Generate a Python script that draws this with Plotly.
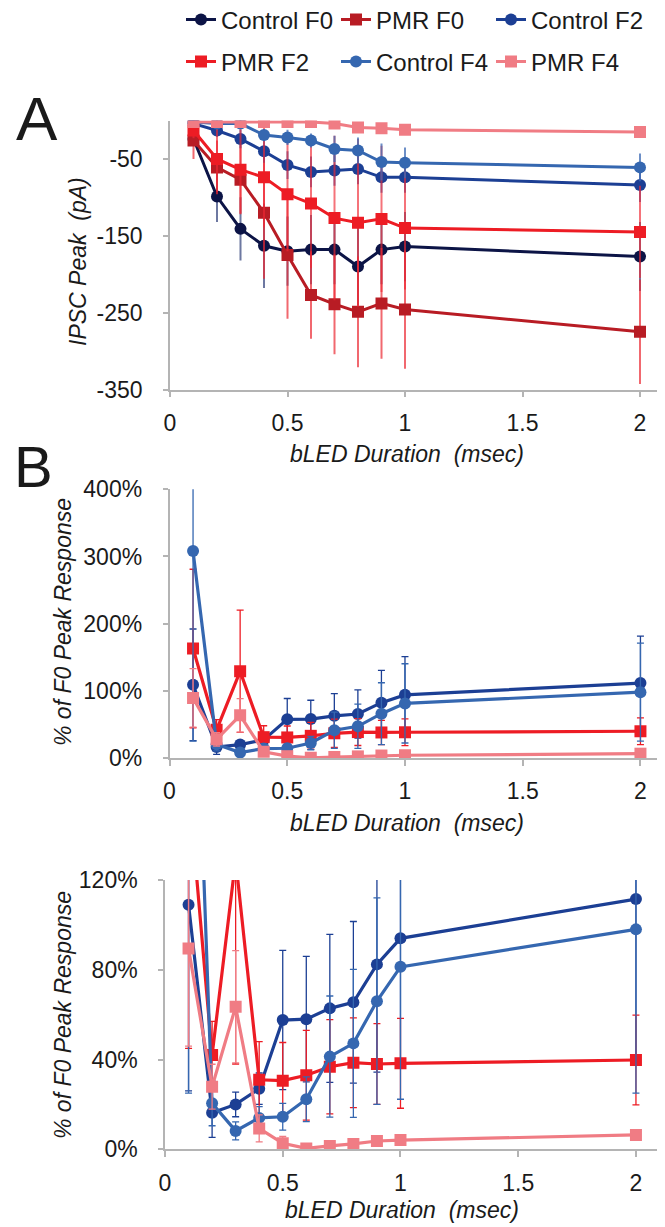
import plotly.graph_objects as go

# ---------------- data ----------------
durations = [0.1, 0.2, 0.3, 0.4, 0.5, 0.6, 0.7, 0.8, 0.9, 1.0, 2.0]

series_names = ["Control F0", "PMR F0", "Control F2", "PMR F2", "Control F4", "PMR F4"]

# Panel A: IPSC peak (pA)
ctrl_f0_pa = [-24, -99, -141, -163, -170, -168, -168, -190, -168, -164, -177]
ctrl_f0_pa_err = [6, 33, 41, 55, 45, 45, 45, 50, 45, 45, 45]
pmr_f0_pa = [-26, -61, -77, -120, -175, -227, -239, -249, -238, -246, -275]
pmr_f0_pa_err = [24, 35, 45, 86, 83, 57, 65, 72, 72, 77, 68]
ctrl_f2_pa = [-4, -13, -24, -40, -58, -67, -65, -63, -74, -74, -84]
ctrl_f2_pa_err = [3, 8, 12, 15, 18, 20, 20, 20, 20, 20, 22]
pmr_f2_pa = [-13, -50, -64, -74, -96, -108, -127, -133, -128, -140, -145]
pmr_f2_pa_err = [10, 43, 57, 65, 74, 84, 107, 109, 95, 80, 60]
ctrl_f4_pa = [-2, -4, -4, -19, -22, -26, -37, -39, -54, -55, -61]
ctrl_f4_pa_err = [2, 4, 5, 8, 10, 9, 17, 17, 24, 20, 18]
pmr_f4_pa = [-2, -2, -2, -2, -2, -2, -4, -9, -10, -12, -15]
pmr_f4_pa_err = [1, 1, 1, 1, 1, 1, 2, 2, 2, 2, 2]

# Panels B & C: % of F0 peak response
ctrl_f2_pct = [109, 16.3, 20, 27, 57.6, 58, 62.8, 65.5, 82.4, 94, 111.5]
ctrl_f2_pct_err = [83, 11, 5.5, 7, 31, 28, 33, 36, 48, 57, 70]
ctrl_f4_pct = [308, 20.5, 8.2, 14, 14.5, 22.3, 41.3, 47.2, 66, 81.3, 98]
ctrl_f4_pct_err = [283, 10, 4, 5, 6, 10, 27, 33, 46, 59, 73]
pmr_f2_pct = [163, 42, 129, 31, 30.6, 33, 36.8, 38.6, 38, 38.3, 39.8]
pmr_f2_pct_err = [118, 15, 91, 17, 17, 20, 21, 20, 18, 20, 20]
pmr_f4_pct = [89.5, 27.9, 63.5, 9.3, 2.7, 0.4, 1.5, 2.4, 3.7, 4.1, 6.4]
pmr_f4_pct_err = [43.5, 10, 25, 6, 3, 2, 2, 2, 2, 2, 2]

x_ticks = [0, 0.5, 1, 1.5, 2]
x_ticktext = ["0", "0.5", "1", "1.5", "2"]
a_yticks = [-350, -250, -150, -50]
b_yticks = [0, 100, 200, 300, 400]
c_yticks = [0, 40, 80, 120]

# ---------------- styles ----------------
colors = {
    "Control F0": "#0c1446",
    "PMR F0": "#b81c24",
    "Control F2": "#1c3f94",
    "PMR F2": "#ed1c24",
    "Control F4": "#3567b0",
    "PMR F4": "#f07c84",
}
err_colors_a = {
    "Control F0": "rgba(60,75,130,0.75)",
    "PMR F0": "rgba(235,40,50,0.7)",
    "Control F2": "rgba(40,70,160,0.7)",
    "PMR F2": "rgba(240,40,50,0.65)",
    "Control F4": "rgba(60,105,180,0.75)",
    "PMR F4": "rgba(240,125,130,0.7)",
}
symbols = {
    "Control F0": "circle", "PMR F0": "square", "Control F2": "circle",
    "PMR F2": "square", "Control F4": "circle", "PMR F4": "square",
}

# The page body has an 8px default margin, so the figure is drawn 8px in.
OFF = 8
W, H = 665 - OFF, 1227 - OFF
FONT = "Liberation Sans, Arial, sans-serif"
TXT = "#1a1a1a"
AXC = "#b4b4b4"


def px_x(p):
    return (p - OFF) / W


def px_y(p):
    return 1 - (p - OFF) / H


fig = go.Figure()

# Panel A traces
panel_a = [
    ("Control F0", ctrl_f0_pa, ctrl_f0_pa_err),
    ("PMR F0", pmr_f0_pa, pmr_f0_pa_err),
    ("Control F2", ctrl_f2_pa, ctrl_f2_pa_err),
    ("PMR F2", pmr_f2_pa, pmr_f2_pa_err),
    ("Control F4", ctrl_f4_pa, ctrl_f4_pa_err),
    ("PMR F4", pmr_f4_pa, pmr_f4_pa_err),
]
for i, (name, vals, errs) in enumerate(panel_a):
    fig.add_trace(go.Scatter(
        x=durations, y=vals, name=name, mode="lines+markers",
        line=dict(color=colors[name], width=3),
        marker=dict(symbol=symbols[name], size=12, color=colors[name]),
        error_y=dict(type="data", array=errs, visible=True, width=0,
                     thickness=2, color=err_colors_a[name]),
        xaxis="x", yaxis="y",
        legend="legend" if i < 3 else "legend2",
        showlegend=True,
    ))

panel_bc = [
    ("Control F2", ctrl_f2_pct, ctrl_f2_pct_err),
    ("PMR F2", pmr_f2_pct, pmr_f2_pct_err),
    ("Control F4", ctrl_f4_pct, ctrl_f4_pct_err),
    ("PMR F4", pmr_f4_pct, pmr_f4_pct_err),
]
for xa, ya in (("x2", "y2"), ("x3", "y3")):
    for name, vals, errs in panel_bc:
        fig.add_trace(go.Scatter(
            x=durations, y=vals, name=name, mode="lines+markers",
            line=dict(color=colors[name], width=3.2),
            marker=dict(symbol=symbols[name], size=12, color=colors[name]),
            error_y=dict(type="data", array=errs, visible=True, width=3.5,
                         thickness=1.3, color=colors[name]),
            xaxis=xa, yaxis=ya, showlegend=False,
        ))

tickfont = dict(family=FONT, size=23, color=TXT)


def xaxis_cfg(left, right, anchor):
    return dict(
        domain=[px_x(left), px_x(right)], range=[0, 2.1], anchor=anchor,
        tickvals=x_ticks, ticktext=x_ticktext, tickfont=tickfont,
        showline=True, linecolor=AXC, linewidth=1.5,
        ticks="outside", ticklen=6, tickcolor=AXC, tickwidth=1.5,
        ticklabelstandoff=6, showgrid=False, zeroline=False, automargin=False,
    )


def yaxis_cfg(top, bottom, rng, tv, tt, anchor):
    return dict(
        domain=[px_y(bottom), px_y(top)], range=rng, anchor=anchor,
        tickvals=tv, ticktext=tt, tickfont=tickfont,
        showline=True, linecolor=AXC, linewidth=1.5,
        ticks="outside", ticklen=5, tickcolor=AXC, tickwidth=1.5,
        ticklabelstandoff=16, showgrid=False, zeroline=False, automargin=False,
    )


fig.update_layout(
    width=W, height=H,
    margin=dict(l=0, r=0, t=0, b=0, autoexpand=False),
    paper_bgcolor="white", plot_bgcolor="white",
    font=dict(family=FONT, color=TXT),
    xaxis=xaxis_cfg(170, 663.5, "y"),
    yaxis=yaxis_cfg(120.5, 389.5, [-350, 0], a_yticks, [str(v) for v in a_yticks], "x"),
    xaxis2=xaxis_cfg(169.5, 664, "y2"),
    yaxis2=yaxis_cfg(489.3, 758, [0, 400], b_yticks, [f"{v}%" for v in b_yticks], "x2"),
    xaxis3=xaxis_cfg(165, 659.5, "y3"),
    yaxis3=yaxis_cfg(880, 1149.3, [0, 120], c_yticks, [f"{v}%" for v in c_yticks], "x3"),
    legend=dict(orientation="h", x=px_x(181), y=px_y(20), xanchor="left", yanchor="middle",
                entrywidth=110, font=dict(family=FONT, size=24, color=TXT),
                bgcolor="rgba(0,0,0,0)", itemclick=False),
    legend2=dict(orientation="h", x=px_x(181), y=px_y(62), xanchor="left", yanchor="middle",
                 entrywidth=110, font=dict(family=FONT, size=24, color=TXT),
                 bgcolor="rgba(0,0,0,0)", itemclick=False),
)

annots = [
    dict(text="A", x=px_x(14), y=px_y(118), xanchor="left", yanchor="middle",
         font=dict(family=FONT, size=62, color=TXT)),
    dict(text="B", x=px_x(12), y=px_y(466), xanchor="left", yanchor="middle",
         font=dict(family=FONT, size=58, color=TXT)),
    dict(text="<i>IPSC Peak  (pA)</i>", x=px_x(78), y=px_y(262), textangle=-90,
         xanchor="center", yanchor="middle", font=dict(family=FONT, size=23, color=TXT)),
    dict(text="<i>% of F0 Peak Response</i>", x=px_x(63), y=px_y(622), textangle=-90,
         xanchor="center", yanchor="middle", font=dict(family=FONT, size=23, color=TXT)),
    dict(text="<i>% of F0 Peak Response</i>", x=px_x(63), y=px_y(1015), textangle=-90,
         xanchor="center", yanchor="middle", font=dict(family=FONT, size=23, color=TXT)),
    dict(text="<i>bLED Duration  (msec)</i>", x=px_x(407), y=px_y(454),
         xanchor="center", yanchor="middle", font=dict(family=FONT, size=23, color=TXT)),
    dict(text="<i>bLED Duration  (msec)</i>", x=px_x(407), y=px_y(823),
         xanchor="center", yanchor="middle", font=dict(family=FONT, size=23, color=TXT)),
    dict(text="<i>bLED Duration  (msec)</i>", x=px_x(402), y=px_y(1210),
         xanchor="center", yanchor="middle", font=dict(family=FONT, size=23, color=TXT)),
]
for a in annots:
    a.update(xref="paper", yref="paper", showarrow=False)
fig.update_layout(annotations=annots)

fig.write_html("out.html")
